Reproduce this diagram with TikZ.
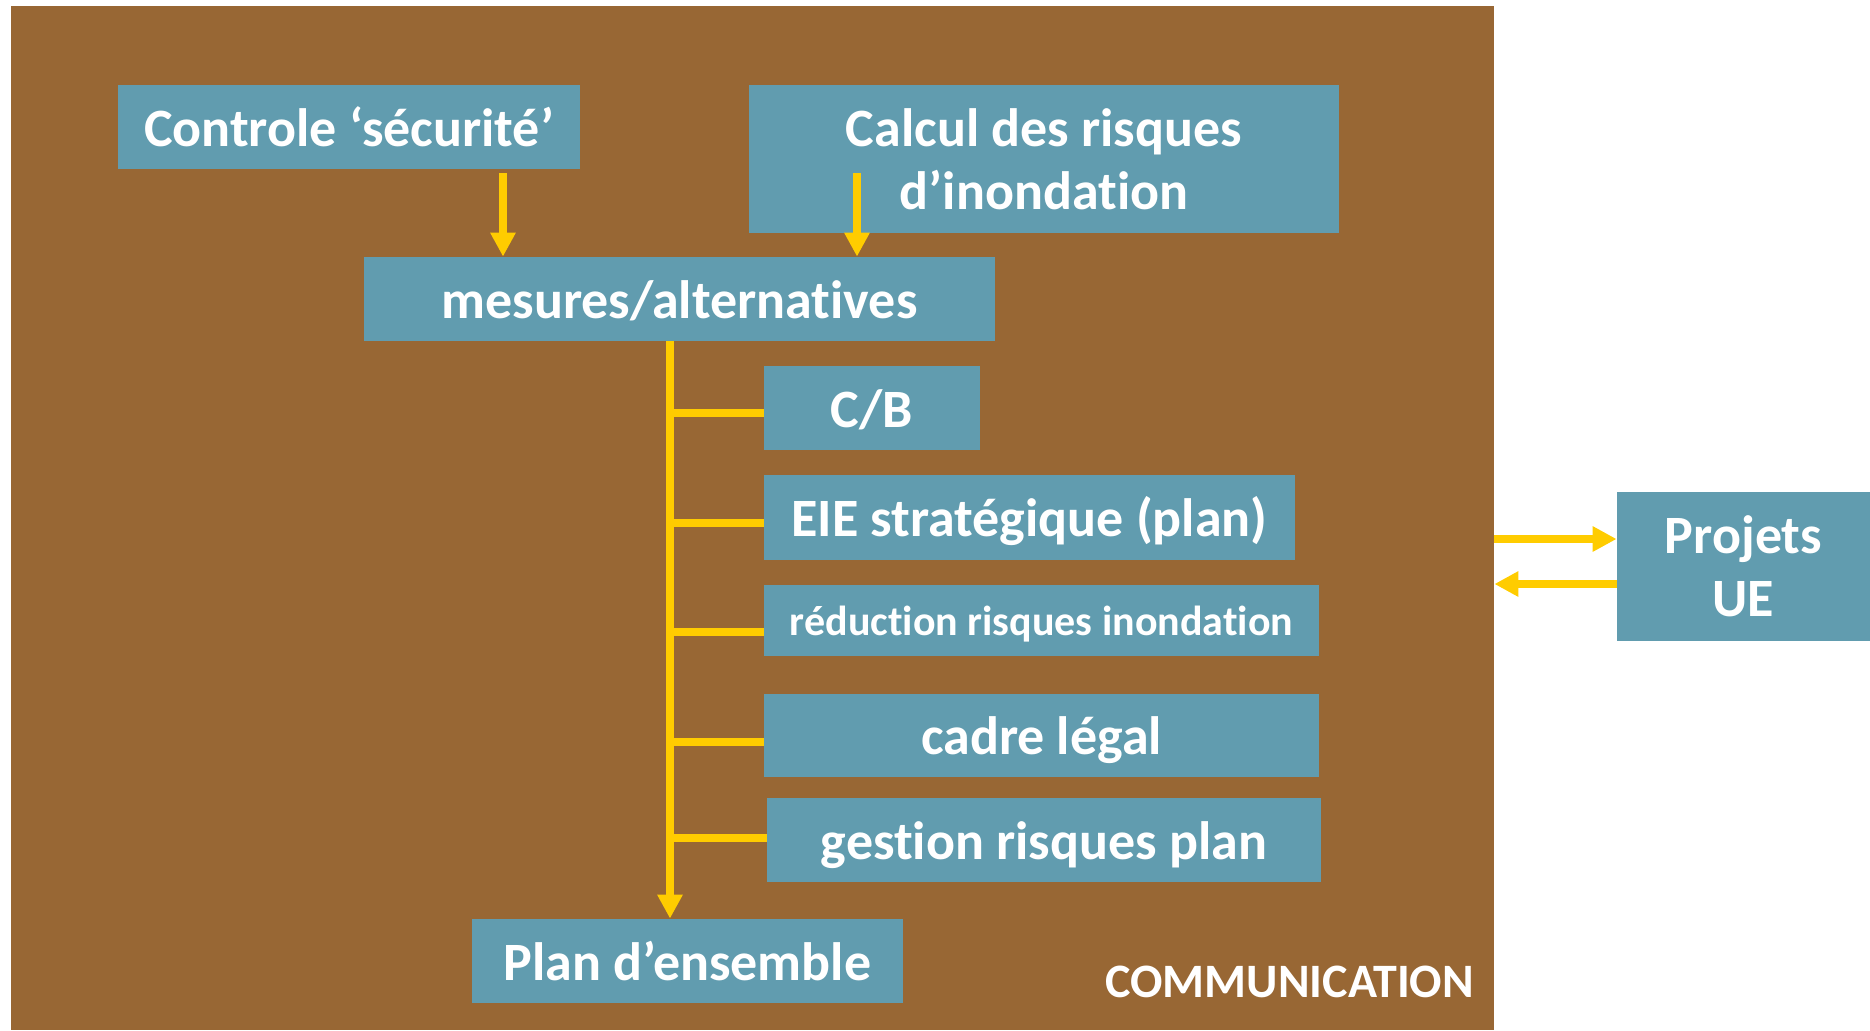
\documentclass[tikz,border=0pt]{standalone}
\usepackage{fontspec}
\setmainfont{Carlito}[Ligatures={NoCommon}]
\usetikzlibrary{arrows.meta}
\definecolor{soil}{RGB}{152,103,52}
\definecolor{steel}{RGB}{97,156,175}
\definecolor{flowyellow}{RGB}{255,204,0}
\tikzstyle{frame} = [fill=soil, rectangle, inner sep=0pt]
\tikzstyle{block} = [fill=steel, rectangle, text=white, inner sep=0pt,
    font=\fontsize{27}{31.5}\selectfont\bfseries]
\tikzstyle{oneline} = [text height=25pt, text depth=6pt]
\tikzstyle{flow} = [draw=flowyellow, line width=3.75pt, ->]
\tikzstyle{link} = [draw=flowyellow, line width=3.75pt]

\begin{document}
\begin{tikzpicture}[x=0.5pt, y=-0.5pt, >={Triangle[length=12pt,width=12pt]}]
\useasboundingbox (0,0) rectangle (1870,1030);

% the brown field and its label
\node [frame, minimum width=741.5pt, minimum height=512pt] (comm) at (752.5,518) {};
\node [anchor=base east, inner sep=0pt, text=white,
    font=\fontsize{24}{28}\selectfont\bfseries] (commlabel)
    at ([xshift=-10pt,yshift=16.5pt]comm.south east) {COMMUNICATION};

% We start by placing the blocks
\node [block, oneline, minimum width=231pt, minimum height=42pt] (ctrl) at (349,127) {Controle ‘sécurité’};
\node [block, align=center, minimum width=295pt, minimum height=74pt] (calc) at (1044,159) {Calcul des risques\\d’inondation};
\node [block, oneline, minimum width=315.5pt, minimum height=42pt] (mes) at (679.5,299) {mesures/alternatives};
\node [block, oneline, minimum width=108pt, minimum height=42pt] (cb) at (872,408) {C/B};
\node [block, oneline, minimum width=265.5pt, minimum height=42.5pt] (eie) at (1029.5,517.5) {EIE stratégique (plan)};
\node [block, text height=19pt, text depth=4.5pt, font=\fontsize{21}{25}\selectfont\bfseries,
    minimum width=277.5pt, minimum height=35.5pt] (red) at (1041.5,620.5) {réduction risques inondation};
\node [block, oneline, minimum width=277.5pt, minimum height=41.5pt] (cadre) at (1041.5,735.5) {cadre légal};
\node [block, oneline, minimum width=277pt, minimum height=42pt] (gest) at (1044,840) {gestion risques plan};
\node [block, oneline, minimum width=215.5pt, minimum height=42pt] (plan) at (687.5,961) {Plan d’ensemble};
\node [block, align=center, minimum width=126.5pt, minimum height=74.5pt] (proj) at (1743.5,566.5) {Projets\\UE};

% Once the nodes are placed, connecting them is easy.
\coordinate (cin) at ([xshift=77pt,yshift=-2pt]ctrl.south);
\coordinate (rin) at ([xshift=-93.5pt,yshift=30pt]calc.south);
\coordinate (trunk) at ([xshift=-4.75pt]mes.south);
\draw [flow] (cin) -- (cin |- mes.north);
\draw [flow] (rin) -- (rin |- mes.north);
\draw [flow] (trunk) -- (trunk |- plan.north);
\foreach \n/\d in {cb/5,eie/5.5,red/11.5,cadre/6.5,gest/-2}{
    \coordinate (br) at ([shift={(0,\d)}]\n.west);
    \draw [link] (trunk |- br) -- (br);
}

\coordinate (pin) at ([yshift=13.75pt]proj.west);
\coordinate (pout) at ([yshift=-8.75pt]proj.west);
\draw [flow] (comm.east |- pin) -- (pin);
\draw [flow] (pout) -- (comm.east |- pout);

\end{tikzpicture}
\end{document}
